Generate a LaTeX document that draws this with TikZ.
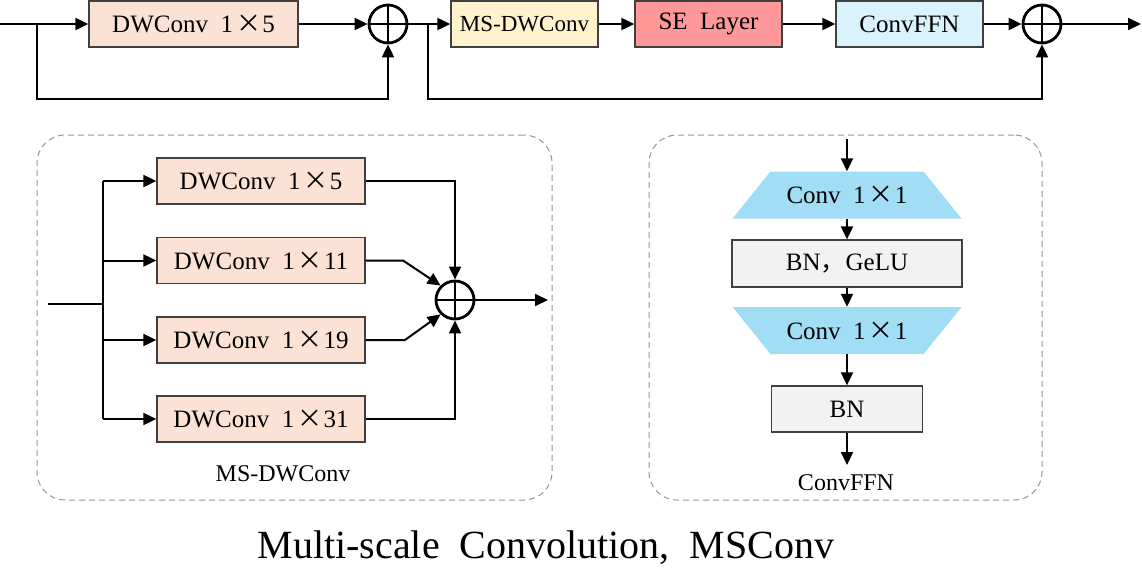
\documentclass[tikz,border=0pt]{standalone}
\usepackage{fontspec}
\setmainfont{Liberation Serif}
\newfontfamily\cjkfont{Noto Sans CJK SC}
\newfontfamily\cjkfw[RawFeature=+fwid]{Noto Sans CJK SC}
\usetikzlibrary{arrows.meta}
\newcommand{\tms}{\hspace{0.12em}{\cjkfw ×}\hspace{0.05em}}
\newcommand{\wsp}{\hspace{0.5em}}
\definecolor{dwfill}{RGB}{251,226,213}
\definecolor{msfill}{RGB}{255,242,204}
\definecolor{sefill}{RGB}{255,153,153}
\definecolor{ffnfill}{RGB}{218,242,251}
\definecolor{trapfill}{RGB}{161,222,245}
\definecolor{bnfill}{RGB}{242,242,242}
\definecolor{boxline}{RGB}{64,64,64}
\definecolor{panelline}{RGB}{150,150,150}
\begin{document}
\begin{tikzpicture}[x=1pt,y=-1pt,
  box/.style={draw=boxline, line width=1.3pt, minimum height=46pt, inner sep=0pt,
              font=\fontsize{25}{30}\selectfont},
  plus/.style={circle, draw=black, line width=2.8pt, minimum size=38pt, inner sep=0pt,
               path picture={\draw[line width=2.8pt] (path picture bounding box.north) -- (path picture bounding box.south)
                 (path picture bounding box.west) -- (path picture bounding box.east);}},
  conn/.style={line width=2pt},
  arr/.style={conn, -{Triangle[length=13pt,width=12pt]}},
  trapup/.style={minimum width=229pt, minimum height=47pt, inner sep=0pt,
               font=\fontsize{25}{30}\selectfont,
               path picture={\fill[trapfill] (path picture bounding box.south west) -- (path picture bounding box.south east)
                  -- ([xshift=-38pt]path picture bounding box.north east) -- ([xshift=38pt]path picture bounding box.north west) -- cycle;}},
  trapdown/.style={minimum width=229pt, minimum height=47pt, inner sep=0pt,
               font=\fontsize{25}{30}\selectfont,
               path picture={\fill[trapfill] (path picture bounding box.north west) -- (path picture bounding box.north east)
                  -- ([xshift=-38pt]path picture bounding box.south east) -- ([xshift=38pt]path picture bounding box.south west) -- cycle;}},
  panel/.style={draw=panelline, line width=1pt, dash pattern=on 6pt off 4pt,
                rounded corners=28pt},
  lbl/.style={font=\fontsize{24}{28}\selectfont}
]
\useasboundingbox (0,0) rectangle (1142,582);

% ---------- top row ----------
\coordinate (tin) at (0,24);
\coordinate (tb1) at (37,24);
\node[box, fill=dwfill, minimum width=209pt] (tdw) at (193.5,24) {DWConv\wsp 1\tms 5};
\node[plus] (c1) at (388,24) {};
\coordinate (tb2) at (428,24);
\node[box, fill=msfill, minimum width=147pt, font=\fontsize{23}{28}\selectfont] (tms) at (524.5,24) {MS-DWConv};
\node[box, fill=sefill, minimum width=147pt] (tse) at (708.5,24) {SE\wsp Layer};
\node[box, fill=ffnfill, minimum width=147pt] (tffn) at (909.5,24) {ConvFFN};
\node[plus] (c2) at (1042,24) {};
\coordinate (tout) at (1141,24);

\draw[arr] (tin) -- (tdw.west);
\draw[arr] (tdw.east) -- (c1.west);
\draw[arr] (tb1) -- (37,99) -| (c1.south);
\draw[arr] (c1.east) -- (tms.west);
\draw[arr] (tms.east) -- (tse.west);
\draw[arr] (tse.east) -- (tffn.west);
\draw[arr] (tffn.east) -- (c2.west);
\draw[arr] (tb2) -- (428,99) -| (c2.south);
\draw[arr] (c2.east) -- (tout);

% ---------- left panel: MS-DWConv ----------
\node[panel, minimum width=515pt, minimum height=365pt] (p1) at (294.5,317.5) {};
\coordinate (lin) at (48,304);
\coordinate (lsp) at (103,304);
\node[box, fill=dwfill, minimum width=208pt] (d5) at (261,181) {DWConv\wsp 1\tms 5};
\node[box, fill=dwfill, minimum width=208pt] (d11) at (261,260.5) {DWConv\wsp 1\tms 11};
\node[box, fill=dwfill, minimum width=208pt] (d19) at (261,340) {DWConv\wsp 1\tms 19};
\node[box, fill=dwfill, minimum width=208pt] (d31) at (261,419) {DWConv\wsp 1\tms 31};
\node[plus] (c3) at (455,300) {};
\coordinate (lout) at (548,300);

\draw[conn] (lin) -- (lsp);
\draw[conn] (103,181) -- (103,419);
\draw[arr] (103,181) -- (d5.west);
\draw[arr] (103,260.5) -- (d11.west);
\draw[arr] (103,340) -- (d19.west);
\draw[arr] (103,419) -- (d31.west);
\draw[arr] (d5.east) -| (c3.north);
\draw[arr] (d11.east) -- (403,260.5) -- (c3.135);
\draw[arr] (d19.east) -- (405,340) -- (c3.225);
\draw[arr] (d31.east) -| (c3.south);
\draw[arr] (c3.east) -- (lout);
\node[lbl] (l1) at (283,474) {MS-DWConv};

% ---------- right panel: ConvFFN ----------
\node[panel, minimum width=393pt, minimum height=365pt] (p2) at (845.5,317.5) {};
\coordinate (rin) at (847,139);
\node[trapup] (t1) at (847,195) {Conv\wsp 1\tms 1};
\node[box, fill=bnfill, minimum width=230pt, minimum height=47pt] (bg) at (847,263.5) {BN{\cjkfont ，}GeLU};
\node[trapdown] (t2) at (847,330.5) {Conv\wsp 1\tms 1};
\node[box, fill=bnfill, minimum width=151pt] (bn) at (847,409) {BN};
\coordinate (rout) at (847,465);
\node[lbl] (l2) at (846,483) {ConvFFN};

\draw[arr] (rin) -- (t1.north);
\draw[arr] (t1.south) -- (bg.north);
\draw[arr] (bg.south) -- (t2.north);
\draw[arr] (t2.south) -- (bn.north);
\draw[arr] (bn.south) -- (rout);

% ---------- title ----------
\node[font=\fontsize{40}{44}\selectfont] (title) at (546,548) {Multi-scale\wsp Convolution,\wsp MSConv};
\end{tikzpicture}
\end{document}
